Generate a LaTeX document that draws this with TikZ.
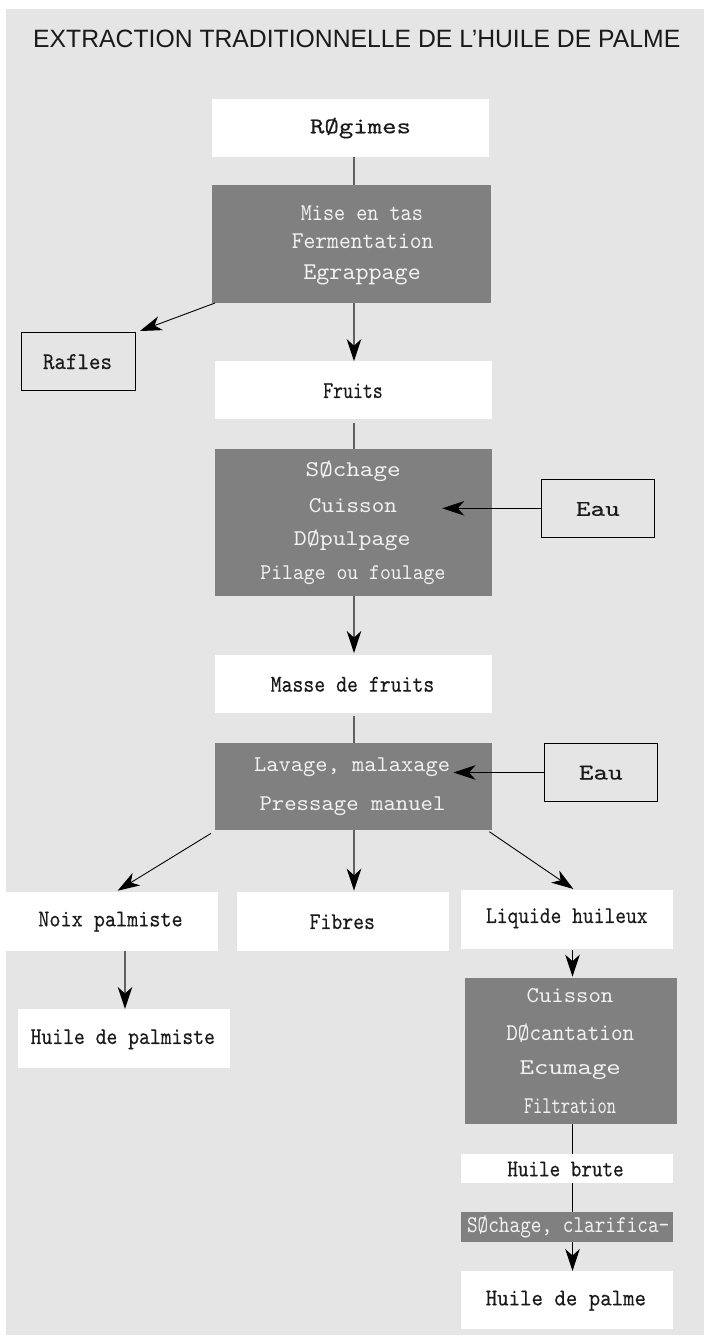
\documentclass[tikz,border=0pt]{standalone}
\usepackage{fontspec}
\usetikzlibrary{arrows.meta}
\newfontfamily\titlefont{Liberation Sans}
\newfontfamily\monob[FakeBold=0.3]{lmmono10-regular.otf}
\newfontfamily\monol{lmmono10-regular.otf}
\definecolor{bgc}{HTML}{E5E5E5}
\definecolor{dk}{HTML}{808080}
\definecolor{gl}{HTML}{606060}
\definecolor{lt}{HTML}{F2F2F2}
\definecolor{ink}{HTML}{1A1A1A}
\newcommand\tw[2]{\resizebox{#1}{\height}{#2}}
\newcommand\tc[2]{\resizebox{#1}{1.07\height}{#2}}
\begin{document}
\begin{tikzpicture}[x=1pt,y=-1pt,
  wbox/.style={fill=white,draw=none,inner sep=0,outer sep=0},
  dbox/.style={fill=dk,draw=none,inner sep=0,outer sep=0},
  obox/.style={draw=black,line width=0.9pt,fill=none,inner sep=0,outer sep=0},
  lbl/.style={inner sep=0,outer sep=0,font=\fontsize{22.5}{24}\monob,text=ink},
  llbl/.style={inner sep=0,outer sep=0,font=\fontsize{22.5}{24}\monol,text=lt},
  gline/.style={draw=gl,line width=1.8pt},
  bline/.style={draw=black,line width=0.9pt},
  arr/.style={-{Stealth[length=22pt,width=14.5pt,inset=6.5pt,color=black]}},
]
\useasboundingbox (0,0) rectangle (704,1336);
\fill[bgc] (6,9) rectangle (704,1335);

% title
\node[anchor=base west,inner sep=0,text=ink] (title) at (33,47)
  {\resizebox{647pt}{17.5pt}{\titlefont EXTRACTION TRADITIONNELLE DE L’HUILE DE PALME}};

% boxes
\node[wbox,minimum width=277pt,minimum height=58pt] (reg) at (350.5,128) {};
\node[dbox,minimum width=279.5pt,minimum height=118pt] (mise) at (351.25,244) {};
\node[obox,minimum width=114pt,minimum height=58pt] (rafles) at (78.5,361.7) {};
\node[wbox,minimum width=277pt,minimum height=57.7pt] (fruits) at (353.5,390) {};
\node[dbox,minimum width=277pt,minimum height=146.7pt] (sech) at (353.5,522.3) {};
\node[obox,minimum width=113.7pt,minimum height=58pt] (eau1) at (597.85,508.3) {};
\node[wbox,minimum width=277pt,minimum height=58.3pt] (masse) at (353.5,684.2) {};
\node[dbox,minimum width=277pt,minimum height=86.7pt] (lav) at (353.5,786.7) {};
\node[obox,minimum width=113pt,minimum height=58.4pt] (eau2) at (601.25,772.5) {};
\node[wbox,minimum width=211.7pt,minimum height=58.4pt] (noix) at (111.85,921.5) {};
\node[wbox,minimum width=212.3pt,minimum height=58.4pt] (fib) at (342.85,921.5) {};
\node[wbox,minimum width=211.6pt,minimum height=59pt] (liq) at (566.8,919.5) {};
\node[wbox,minimum width=212pt,minimum height=58.7pt] (hpal) at (124,1038.35) {};
\node[dbox,minimum width=211.7pt,minimum height=146pt] (cuis) at (570.85,1051.3) {};
\node[wbox,minimum width=211.7pt,minimum height=29.3pt] (hbrute) at (566.85,1168.65) {};
\node[dbox,minimum width=211.7pt,minimum height=29.4pt] (secl) at (566.85,1227) {};
\node[wbox,minimum width=211.7pt,minimum height=58.3pt] (hpalme) at (566.85,1300.15) {};

% texts
\node[lbl] (regt) at (360.5,128) {\tw{101pt}{RØgimes}};
\node[llbl] (mise1) at (361.9,213.7) {\tc{122pt}{Mise en tas}};
\node[llbl] (mise2) at (362.6,240.8) {\tc{141.6pt}{Fermentation}};
\node[llbl] (mise3) at (362.1,275) {\tc{117.4pt}{Egrappage}};
\node[lbl] (raflest) at (77.5,361.7) {\tc{69pt}{Rafles}};
\node[lbl] (fruitst) at (353,390.7) {\tc{59.5pt}{Fruits}};
\node[llbl] (sech1) at (353.2,471) {\tw{95pt}{SØchage}};
\node[llbl] (sech2) at (352.9,505.7) {\tw{88pt}{Cuisson}};
\node[llbl] (sech3) at (352.2,540.7) {\tw{116.5pt}{DØpulpage}};
\node[llbl] (sech4) at (352.9,575) {\tw{185pt}{Pilage ou foulage}};
\node[lbl] (eau1t) at (597.9,509) {\tw{43.8pt}{Eau}};
\node[lbl] (masset) at (352.5,684.3) {\tc{163.6pt}{Masse de fruits}};
\node[llbl] (lav1) at (352,766.7) {\tw{196pt}{Lavage, malaxage}};
\node[llbl] (lav2) at (352.5,806) {\tw{186pt}{Pressage manuel}};
\node[lbl] (eau2t) at (600.8,772.7) {\tw{43.8pt}{Eau}};
\node[lbl] (noixt) at (110.5,921.7) {\tc{144.4pt}{Noix palmiste}};
\node[lbl] (fibt) at (342.3,921.7) {\tc{65.3pt}{Fibres}};
\node[lbl] (liqt) at (566.8,918.3) {\tc{161.6pt}{Liquide huileux}};
\node[lbl] (hpalt) at (122.8,1039.3) {\tc{184.3pt}{Huile de palmiste}};
\node[llbl] (cuis1) at (570,996) {\tw{86.7pt}{Cuisson}};
\node[llbl] (cuis2) at (570.3,1033.3) {\tc{128pt}{DØcantation}};
\node[llbl] (cuis3) at (570.3,1070) {\tw{101.3pt}{Ecumage}};
\node[llbl] (cuis4) at (570,1106.7) {\tc{92pt}{Filtration}};
\node[lbl] (hbrutet) at (565.5,1169) {\tc{116.3pt}{Huile brute}};
\node[llbl] (seclt) at (568.2,1227.3) {\tc{202.3pt}{SØchage, clarifica-}};
\node[lbl] (hpalmet) at (565.9,1300.7) {\tc{160.3pt}{Huile de palme}};

% coordinates
\coordinate (cx) at (354,0);
\coordinate (cx2) at (125,0);
\coordinate (cx3) at (572.5,0);
\coordinate (tA) at (442.3,0);
\coordinate (tB) at (453.5,0);

% connectors
\draw[gline] (reg.south -| cx) -- (mise.north -| cx);
\draw[bline,arr] ([xshift=3.5pt]mise.south west) -- ([xshift=4.4pt,yshift=1.7pt]rafles.north east);
\draw[gline,arr] (mise.south -| cx) -- (fruits.north -| cx);
\draw[gline] (fruits.south -| cx) ++(0,4) -- (sech.north -| cx);
\draw[bline,arr] (eau1.west) -- (eau1.west -| tA);
\draw[gline,arr] (sech.south -| cx) -- ([yshift=2pt]masse.north -| cx);
\draw[gline] (masse.south -| cx) ++(0,2.7) -- (lav.north -| cx);
\draw[bline,arr] (eau2.west) -- (eau2.west -| tB);
\draw[bline,arr] ([xshift=-4pt,yshift=-3.3pt]lav.south west) -- ([xshift=5.75pt,yshift=1.6pt]noix.north);
\draw[gline,arr] (lav.south -| cx) -- ([yshift=1.6pt]fib.north -| cx);
\draw[bline,arr] ([xshift=-2.6pt,yshift=-1.7pt]lav.south east) -- ([xshift=6.6pt,yshift=1pt]liq.north);
\draw[gline,arr] (noix.south -| cx2) -- (hpal.north -| cx2);
\draw[bline,arr] (liq.south -| cx3) ++(0,1) -- ([yshift=1.6pt]cuis.north -| cx3);
\draw[bline] (cuis.south -| cx3) -- (hbrute.north -| cx3);
\draw[bline] (hbrute.south -| cx3) -- (secl.north -| cx3);
\draw[bline,arr] (secl.south -| cx3) -- (hpalme.north -| cx3);
\end{tikzpicture}
\end{document}
